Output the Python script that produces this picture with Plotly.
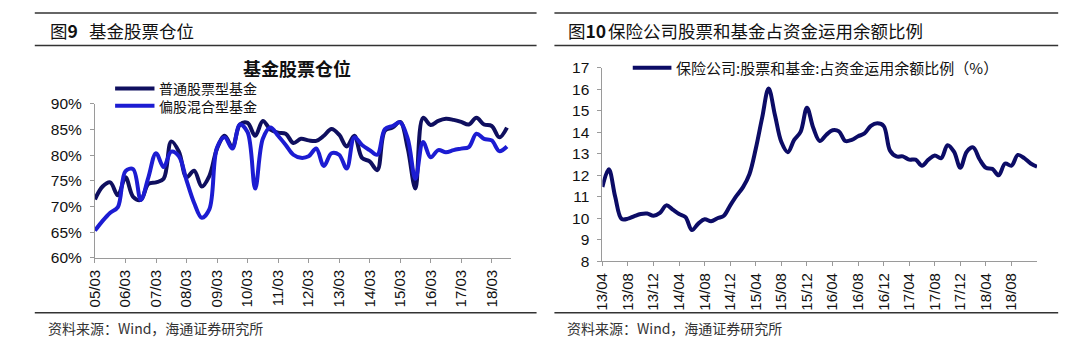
import plotly.graph_objects as go

# ---------------- data ----------------
# quarterly categories 2005/03 .. 2018/09
quarters = [f"{y:02d}/{m:02d}" for y in range(5, 19) for m in (3, 6, 9, 12)][:55]
quarter_ticks = [f"{y:02d}/03" for y in range(5, 19)]

stock_fund = [71.4, 73.9, 74.7, 72.2, 75.7, 71.9, 71.3, 74.4, 74.7, 75.4,
              82.7, 80.7, 75.7, 77.0, 73.9, 76.0, 81.3, 83.8, 81.6, 86.0,
              86.3, 83.8, 86.7, 85.0, 84.4, 84.2, 82.4, 83.2, 82.9, 82.8,
              83.8, 85.1, 84.0, 81.7, 83.8, 79.5, 78.8, 77.1, 84.8, 85.4,
              86.5, 81.3, 73.5, 87.3, 85.9, 86.7, 87.1, 86.9, 86.5, 86.0,
              87.3, 86.0, 85.7, 83.5, 85.4]

mixed_fund = [65.3, 67.2, 68.8, 69.9, 76.9, 77.3, 71.3, 75.7, 80.4, 77.7,
              80.7, 79.8, 75.1, 70.7, 67.8, 69.5, 81.5, 83.5, 81.3, 86.0,
              84.5, 73.5, 83.2, 85.4, 83.8, 82.0, 80.1, 79.5, 79.8, 81.3,
              77.9, 80.4, 80.1, 77.4, 83.5, 82.0, 81.0, 80.1, 85.1, 85.7,
              86.4, 83.2, 75.4, 82.6, 79.6, 81.0, 80.6, 81.0, 81.3, 81.6,
              84.2, 83.2, 82.9, 80.8, 81.7]

# monthly categories 2013/04 .. 2018/12
months = [f"{y:02d}/{m:02d}" for y in range(13, 19) for m in range(1, 13)][3:]
month_ticks = months[::4][:17]

insurance_ratio = [11.46, 12.28, 11.0, 9.97, 9.98, 10.1, 10.2, 10.22, 10.12, 10.25,
                   10.6, 10.4, 10.2, 10.05, 9.45, 9.75, 9.95, 9.86, 10.0, 10.12,
                   10.6, 11.05, 11.45, 12.05, 13.25, 14.7, 16.05, 14.8, 13.55, 13.08,
                   13.65, 14.02, 15.15, 14.2, 13.6, 13.88, 14.1, 14.05, 13.6, 13.65,
                   13.82, 13.95, 14.3, 14.42, 14.3, 13.15, 12.88, 12.88, 12.73, 12.73,
                   12.45, 12.73, 12.92, 12.8, 13.4, 13.1, 12.35, 13.1, 13.3, 12.75,
                   12.35, 12.3, 12.0, 12.55, 12.45, 12.95, 12.8, 12.55, 12.4]

# ---------------- helpers ----------------
W, H = 1080, 351
def fx(x):
    return x / W
def fy(y):
    return 1 - y / H

DARK = "#0f0f5f"
BLUE = "#1c1cd2"
NAVY = "#0c0c66"
CJK = "Noto Sans CJK SC"
LAT = "Liberation Sans, Arial, sans-serif"
AXC = "#9a9a9a"
SMOOTH = 1.0

fig = go.Figure()
fig.add_trace(go.Scatter(x=quarters, y=stock_fund, mode="lines", name="普通股票型基金",
                         line=dict(color=DARK, width=4, shape="spline", smoothing=SMOOTH),
                         xaxis="x", yaxis="y", showlegend=False))
fig.add_trace(go.Scatter(x=quarters, y=mixed_fund, mode="lines", name="偏股混合型基金",
                         line=dict(color=BLUE, width=4, shape="spline", smoothing=SMOOTH),
                         xaxis="x", yaxis="y", showlegend=False))
fig.add_trace(go.Scatter(x=months, y=insurance_ratio, mode="lines",
                         name="保险公司:股票和基金:占资金运用余额比例（%）",
                         line=dict(color=NAVY, width=4, shape="spline", smoothing=SMOOTH),
                         xaxis="x2", yaxis="y2", showlegend=False))

axis_common = dict(showline=True, linecolor=AXC, linewidth=1, showgrid=False, zeroline=False,
                   ticks="outside", tickcolor=AXC, ticklen=4, tickwidth=1)

fig.update_layout(
    width=W, height=H, margin=dict(l=0, r=0, t=0, b=0),
    paper_bgcolor="white", plot_bgcolor="white",
    xaxis=dict(domain=[fx(86.7), fx(506)], anchor="y", type="category",
               range=[0, 54.5], tickvals=quarter_ticks, ticktext=quarter_ticks,
               tickangle=-90, tickfont=dict(family=LAT, size=15, color="#111"),
               ticklabelstandoff=1, **axis_common),
    yaxis=dict(domain=[fy(261.5), fy(99.8)], anchor="x", range=[60, 90], dtick=5,
               ticksuffix="%", tickfont=dict(family=LAT, size=15.5, color="#111"),
               ticklabelstandoff=5, **axis_common),
    xaxis2=dict(domain=[fx(598.4), fx(1036.7)], anchor="y2", type="category",
                range=[0, 68], tickvals=month_ticks, ticktext=month_ticks,
                tickangle=-90, tickfont=dict(family=LAT, size=15, color="#111"),
                ticklabelstandoff=1, **axis_common),
    yaxis2=dict(domain=[fy(265), fy(62)], anchor="x2", range=[8, 17], dtick=1,
                tickfont=dict(family=LAT, size=15.5, color="#111"),
                ticklabelstandoff=5, **axis_common),
)

shapes = []
# horizontal rules
for (x0, x1) in [(26, 532), (550, 1058)]:
    for y in (4.3, 38.3, 319.2):
        shapes.append(dict(type="line", xref="paper", yref="paper",
                           x0=fx(x0), x1=fx(x1), y0=fy(y), y1=fy(y),
                           line=dict(color="#333333", width=1.5)))
# legend samples
LEG1, LEG2 = 83.6, 101.8
shapes.append(dict(type="line", xref="paper", yref="paper", x0=fx(107), x1=fx(146.7),
                   y0=fy(LEG1), y1=fy(LEG1), line=dict(color=DARK, width=4)))
shapes.append(dict(type="line", xref="paper", yref="paper", x0=fx(107), x1=fx(146.7),
                   y0=fy(LEG2), y1=fy(LEG2), line=dict(color=BLUE, width=4)))
shapes.append(dict(type="line", xref="paper", yref="paper", x0=fx(629), x1=fx(668),
                   y0=fy(61.7), y1=fy(61.7), line=dict(color=NAVY, width=4)))
fig.update_layout(shapes=shapes)

def ann(text, x, y, size, xanchor="left", family=CJK, color="#111"):
    return dict(text=text, x=fx(x), y=fy(y), xref="paper", yref="paper",
                xanchor=xanchor, yanchor="middle", showarrow=False, borderpad=0,
                font=dict(family=family, size=size, color=color))

annotations = [
    ann("图<b>9</b>", 40, 22.7, 17.5),
    ann("基金股票仓位", 80, 22.7, 17.5),
    ann("图<b>10</b>", 563, 22.7, 17.5),
    ann("保险公司股票和基金占资金运用余额比例", 603.3, 22.7, 17.5),
    ann("<b>基金股票仓位</b>", 290, 61.7, 18, xanchor="center"),
    ann("普通股票型基金<br>偏股混合型基金", 150, (LEG1 + LEG2) / 2, 14),
    ann("保险公司:股票和基金:占资金运用余额比例（%）", 671.7, 61.7, 15),
    ann("资料来源：Wind，海通证券研究所", 38.3, 335, 14, color="#333"),
    ann("资料来源：Wind，海通证券研究所", 562, 335, 14, color="#333"),
]
fig.update_layout(annotations=annotations)

fig.write_html("out.html")
